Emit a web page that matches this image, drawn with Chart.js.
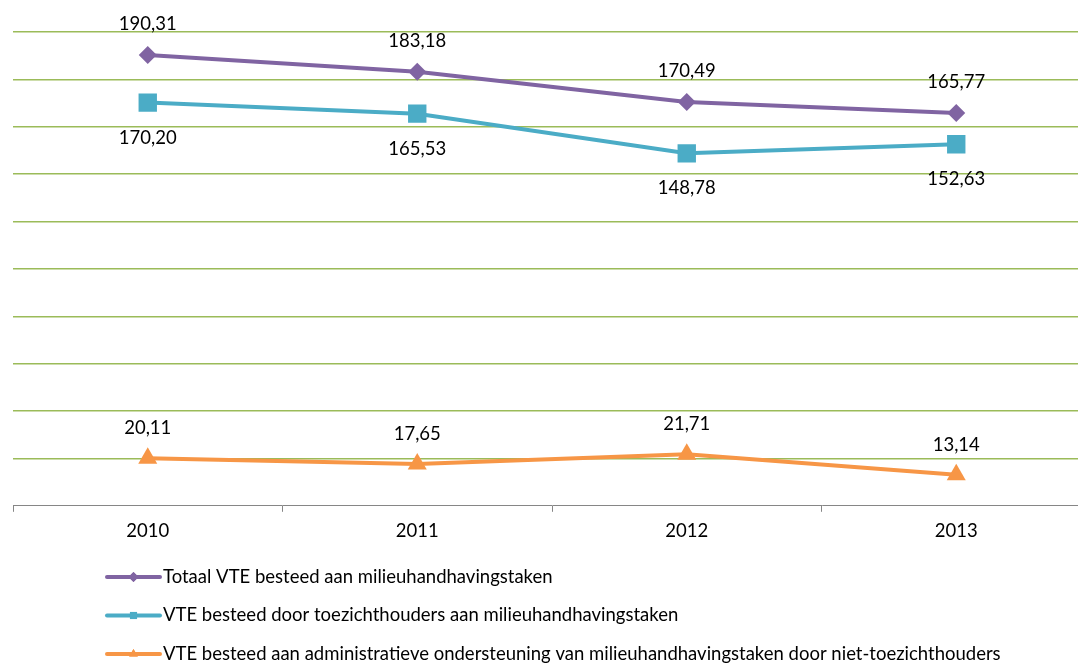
<!DOCTYPE html>
<html>
<head>
<meta charset="utf-8">
<script src="https://cdn.jsdelivr.net/npm/chart.js@4"></script>
<style>
html,body{margin:0;padding:0;background:#fff;overflow:hidden;width:1078px;height:664px;}
#wrap{width:1110px;height:664px;}
</style>
</head>
<body>
<div id="wrap"><canvas id="c" width="1110" height="664"></canvas></div>
<script>
const categories = ['2010', '2011', '2012', '2013'];
const totaal = [190.31, 183.18, 170.49, 165.77];
const toezicht = [170.20, 165.53, 148.78, 152.63];
const administratief = [20.11, 17.65, 21.71, 13.14];
const seriesNames = [
  'Totaal VTE besteed aan milieuhandhavingstaken',
  'VTE besteed door toezichthouders aan milieuhandhavingstaken',
  'VTE besteed aan administratieve ondersteuning van milieuhandhavingstaken door niet-toezichthouders'
];
const yTicks = {min: 0, max: 200, step: 20};

const FONT = 'Lato, "Open Sans", sans-serif';
const FONT_SIZE = 18.5;

const labelPlugin = {
  id: 'valueLabels',
  afterDatasetsDraw(chart, args, opts) {
    const ctx = chart.ctx;
    ctx.save();
    ctx.font = FONT_SIZE + 'px ' + FONT;
    ctx.fillStyle = '#000';
    ctx.textAlign = 'center';
    ctx.textBaseline = 'middle';
    chart.data.datasets.forEach((ds, i) => {
      const meta = chart.getDatasetMeta(i);
      meta.data.forEach((pt, j) => {
        const txt = ds.data[j].toFixed(2).replace('.', ',');
        ctx.fillText(txt, pt.x, pt.y + opts.offsets[i]);
      });
    });
    ctx.restore();
  }
};

const legendPlugin = {
  id: 'listLegend',
  afterDraw(chart, args, opts) {
    const ctx = chart.ctx;
    ctx.save();
    chart.data.datasets.forEach((ds, i) => {
      const y = opts.top + i * opts.rowGap;
      const x0 = opts.left, x1 = opts.left + opts.lineLen;
      ctx.strokeStyle = ds.borderColor;
      ctx.lineWidth = 4;
      ctx.lineCap = 'round';
      ctx.beginPath();
      ctx.moveTo(x0, y); ctx.lineTo(x1, y); ctx.stroke();
      ctx.fillStyle = ds.borderColor;
      ctx.beginPath();
      Chart.helpers.drawPoint(ctx, {pointStyle: ds.pointStyle, radius: 5, borderWidth: 0}, (x0 + x1) / 2, y);
      ctx.fill();
      ctx.fillStyle = '#000';
      ctx.font = FONT_SIZE + 'px ' + FONT;
      ctx.textAlign = 'left';
      ctx.textBaseline = 'middle';
      ctx.fillText(ds.label, x1 + 3, y);
    });
    ctx.restore();
  }
};

new Chart(document.getElementById('c'), {
  type: 'line',
  data: {
    labels: categories,
    datasets: [
      {label: seriesNames[0], data: totaal, borderColor: '#8064A2', backgroundColor: '#8064A2',
       pointStyle: 'rectRot', pointRadius: 9, pointBorderWidth: 0, borderWidth: 4, tension: 0},
      {label: seriesNames[1], data: toezicht, borderColor: '#4BACC6', backgroundColor: '#4BACC6',
       pointStyle: 'rect', pointRadius: 13, pointBorderWidth: 0, borderWidth: 4, tension: 0},
      {label: seriesNames[2], data: administratief, borderColor: '#F79646', backgroundColor: '#F79646',
       pointStyle: 'triangle', pointRadius: 11, pointBorderWidth: 0, borderWidth: 4, tension: 0}
    ]
  },
  options: {
    responsive: false,
    animation: false,
    devicePixelRatio: 1,
    layout: {padding: {left: 11, right: 19, top: 32, bottom: 114}},
    plugins: {
      legend: {display: false},
      tooltip: {enabled: false},
      valueLabels: {offsets: [-31, 35, -30]},
      listLegend: {left: 107, lineLen: 53, top: 577, rowGap: 38.5}
    },
    scales: {
      x: {
        offset: true,
        grid: {offset: true, drawOnChartArea: false, drawTicks: true, tickLength: 6, color: '#868686', tickColor: '#868686'},
        border: {display: true, color: '#868686', width: 1},
        ticks: {color: '#000', font: {family: FONT, size: FONT_SIZE}, padding: 8}
      },
      y: {
        min: yTicks.min, max: yTicks.max,
        ticks: {display: false, stepSize: yTicks.step},
        grid: {drawTicks: false, tickLength: 0, lineWidth: 1.5,
               color: (c) => c.tick && c.tick.value === 0 ? 'rgba(0,0,0,0)' : '#9BBB59'},
        border: {display: false}
      }
    }
  },
  plugins: [labelPlugin, legendPlugin]
});
</script>
</body>
</html>
